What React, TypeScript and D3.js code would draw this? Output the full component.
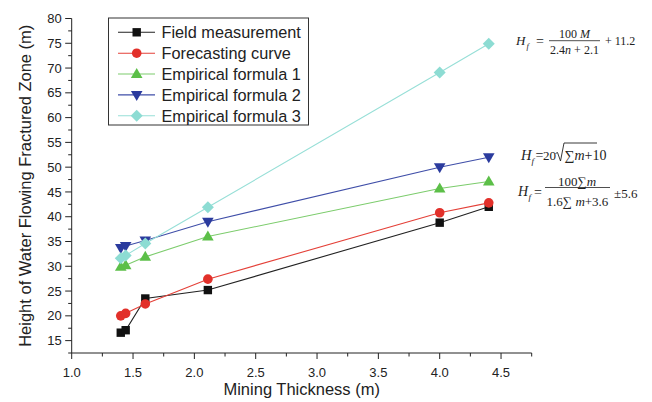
import React from "react";
import * as d3 from "d3";

const thickness = [1.4, 1.44, 1.6, 2.11, 4.0, 4.4];
const fieldMeasurement = [16.6, 17.1, 23.5, 25.2, 38.8, 42.0];
const forecastingCurve = [20.0, 20.5, 22.4, 27.4, 40.8, 42.8];
const empirical1 = [29.9, 30.2, 31.9, 36.0, 45.7, 47.1];
const empirical2 = [33.7, 34.1, 35.2, 39.0, 50.0, 52.0];
const empirical3 = [31.6, 32.2, 34.6, 41.9, 69.1, 74.9];
const seriesNames = [
  "Field measurement",
  "Forecasting curve",
  "Empirical formula 1",
  "Empirical formula 2",
  "Empirical formula 3",
];
const xTicks = [1.0, 1.5, 2.0, 2.5, 3.0, 3.5, 4.0, 4.5];
const yTicks = [15, 20, 25, 30, 35, 40, 45, 50, 55, 60, 65, 70, 75, 80];

const W = 652;
const H = 402;
const left = 71.7;
const right = 531.7;
const top = 18.5;
const bottom = 353;

const sans = "'Liberation Sans', Arial, Helvetica, sans-serif";
const serif = "'Liberation Serif', 'Times New Roman', serif";

type Marker = "square" | "circle" | "triUp" | "triDown" | "diamond";

const series: { name: string; values: number[]; color: string; line: string; marker: Marker }[] = [
  { name: seriesNames[0], values: fieldMeasurement, color: "#111111", line: "#222222", marker: "square" },
  { name: seriesNames[1], values: forecastingCurve, color: "#e2302a", line: "#e44038", marker: "circle" },
  { name: seriesNames[2], values: empirical1, color: "#5cbf48", line: "#7ccc6c", marker: "triUp" },
  { name: seriesNames[3], values: empirical2, color: "#2b3b9e", line: "#3f4ea8", marker: "triDown" },
  { name: seriesNames[4], values: empirical3, color: "#8ddcd3", line: "#97dfd7", marker: "diamond" },
];

function markerPath(m: Marker, cx: number, cy: number): string {
  switch (m) {
    case "square": {
      const s = 4.2;
      return `M${cx - s},${cy - s}H${cx + s}V${cy + s}H${cx - s}Z`;
    }
    case "circle": {
      const r = 4.8;
      return `M${cx - r},${cy}A${r},${r} 0 1,0 ${cx + r},${cy}A${r},${r} 0 1,0 ${cx - r},${cy}Z`;
    }
    case "triUp": {
      const hw = 5.8, h = 10;
      return `M${cx},${cy - h * 0.6}L${cx + hw},${cy + h * 0.4}L${cx - hw},${cy + h * 0.4}Z`;
    }
    case "triDown": {
      const hw = 5.8, h = 10;
      return `M${cx},${cy + h * 0.6}L${cx + hw},${cy - h * 0.4}L${cx - hw},${cy - h * 0.4}Z`;
    }
    case "diamond": {
      const d = 6;
      return `M${cx},${cy - d}L${cx + d},${cy}L${cx},${cy + d}L${cx - d},${cy}Z`;
    }
  }
}

export default function App() {
  const x = d3.scaleLinear().domain([1.0, 4.75]).range([left, right]);
  const y = d3.scaleLinear().domain([12.5, 80]).range([bottom, top]);
  const line = d3
    .line<[number, number]>()
    .x((d) => x(d[0]))
    .y((d) => y(d[1]));

  const xMinor = d3.range(1.25, 4.76, 0.5);
  const yMinor = d3.range(12.5, 80, 5);

  const legendRows = [32.3, 53.2, 74.0, 94.9, 115.7];

  return (
    <div style={{ position: "fixed", left: 0, top: 0 }}>
      <svg width={W} height={H} style={{ display: "block", background: "#fff" }}>
        {/* axes */}
        <g stroke="#222" strokeWidth={1} fill="none">
          <line x1={left} x2={left} y1={top} y2={bottom} />
          <line x1={left} x2={right} y1={bottom} y2={bottom} />
          {xTicks.map((t) => (
            <line key={"xt" + t} x1={x(t)} x2={x(t)} y1={bottom} y2={bottom + 6} />
          ))}
          {xMinor.map((t) => (
            <line key={"xm" + t} x1={x(t)} x2={x(t)} y1={bottom} y2={bottom + 3.5} />
          ))}
          {yTicks.map((t) => (
            <line key={"yt" + t} x1={left - 6.5} x2={left} y1={y(t)} y2={y(t)} />
          ))}
          {yMinor.map((t) => (
            <line key={"ym" + t} x1={left - 3.5} x2={left} y1={y(t)} y2={y(t)} />
          ))}
        </g>
        <g fontFamily={sans} fontSize={13} fill="#222">
          {xTicks.map((t) => (
            <text key={"xl" + t} x={x(t)} y={bottom + 24} textAnchor="middle">
              {d3.format(".1f")(t)}
            </text>
          ))}
          {yTicks.map((t) => (
            <text key={"yl" + t} x={left - 10} y={y(t) + 4.6} textAnchor="end">
              {t}
            </text>
          ))}
        </g>
        <text
          x={(left + right) / 2}
          y={395}
          textAnchor="middle"
          fontFamily={sans}
          fontSize={16.5}
          fill="#222"
        >
          Mining Thickness (m)
        </text>
        <text
          transform={`translate(31,${(top + bottom) / 2}) rotate(-90)`}
          textAnchor="middle"
          fontFamily={sans}
          fontSize={16.5}
          fill="#222"
        >
          Height of Water Flowing Fractured Zone (m)
        </text>

        {/* series */}
        {series.map((s) => {
          const pts: [number, number][] = thickness.map((t, i) => [t, s.values[i]]);
          return (
            <g key={s.name}>
              <path d={line(pts) || ""} fill="none" stroke={s.line} strokeWidth={1.1} />
              {pts.map((p, i) => (
                <path key={i} d={markerPath(s.marker, x(p[0]), y(p[1]))} fill={s.color} />
              ))}
            </g>
          );
        })}

        {/* legend */}
        <rect x={108.5} y={18} width={200} height={107} fill="#fff" stroke="#333" strokeWidth={1} />
        {series.map((s, i) => (
          <g key={"lg" + s.name}>
            <line x1={118} x2={155} y1={legendRows[i]} y2={legendRows[i]} stroke={s.line} strokeWidth={1.1} />
            <path d={markerPath(s.marker, 136.7, legendRows[i])} fill={s.color} />
            <text x={161.5} y={legendRows[i] + 5.8} fontFamily={sans} fontSize={16.3} fill="#222">
              {s.name}
            </text>
          </g>
        ))}

        {/* formulas */}
        <g fontFamily={serif} fill="#222">
          {/* formula 1 */}
          <text x={516} y={45} fontSize={13} fontStyle="italic">H</text>
          <text x={526.5} y={48.5} fontSize={8.5} fontStyle="italic">f</text>
          <text x={536} y={45.5} fontSize={14}>=</text>
          <text x={574.5} y={38} fontSize={12} textAnchor="middle">
            100 <tspan fontStyle="italic">M</tspan>
          </text>
          <line x1={549} x2={600} y1={40.7} y2={40.7} stroke="#222" strokeWidth={0.8} />
          <text x={574.5} y={53.5} fontSize={12} textAnchor="middle">
            2.4<tspan fontStyle="italic">n</tspan> + 2.1
          </text>
          <text x={605} y={45} fontSize={12}>+ 11.2</text>

          {/* formula 2 */}
          <text x={521} y={160} fontSize={14.5} fontStyle="italic">H</text>
          <text x={531.5} y={164} fontSize={9} fontStyle="italic">f</text>
          <text x={535.5} y={160} fontSize={14}>=</text>
          <text x={543} y={160} fontSize={13}>20</text>
          <path
            d="M555.5,153.5 L557.5,152.5 L560.5,161 L564,143 L597,143"
            fill="none"
            stroke="#222"
            strokeWidth={0.9}
          />
          <text x={564.5} y={160} fontSize={14}>
            ∑<tspan fontStyle="italic">m</tspan>+10
          </text>

          {/* formula 3 */}
          <text x={518} y={196} fontSize={14} fontStyle="italic">H</text>
          <text x={528.5} y={200} fontSize={9} fontStyle="italic">f</text>
          <text x={534} y={196.5} fontSize={14}>=</text>
          <text x={577} y={185.5} fontSize={13} textAnchor="middle">
            100∑<tspan fontStyle="italic">m</tspan>
          </text>
          <line x1={545} x2={610} y1={187.5} y2={187.5} stroke="#222" strokeWidth={0.8} />
          <text x={577.5} y={206} fontSize={13} textAnchor="middle">
            1.6∑ <tspan fontStyle="italic">m</tspan>+3.6
          </text>
          <text x={614} y={197.5} fontSize={13}>±5.6</text>
        </g>
      </svg>
    </div>
  );
}
